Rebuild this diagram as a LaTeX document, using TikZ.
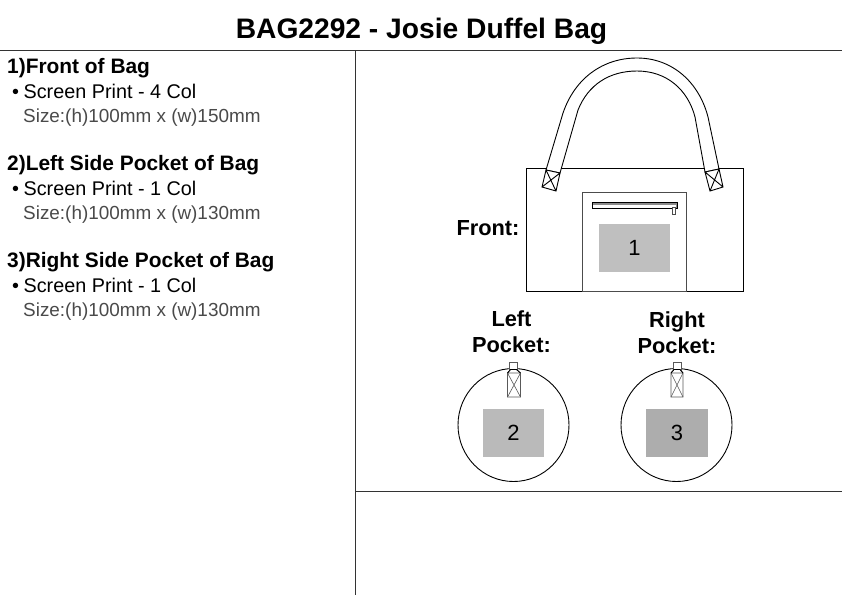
\documentclass[tikz,border=0pt]{standalone}
\usepackage{fontspec}
\setmainfont{Liberation Sans}
\definecolor{printa}{HTML}{BFBFBF}
\definecolor{printb}{HTML}{BABABA}
\definecolor{printc}{HTML}{ADADAD}
\definecolor{rule}{HTML}{333333}
\definecolor{sizetext}{HTML}{4A4A4A}
\tikzset{
  px/.style={x=1pt,y=-1pt},
  frameline/.style={draw=rule,line width=1pt},
  bagline/.style={draw=black,line width=0.9pt},
  thinstrap/.style={draw=black!65,line width=0.6pt},
  titletext/.style={anchor=base,inner sep=0pt,font=\bfseries\fontsize{28.2}{30}\selectfont},
  headtext/.style={anchor=base west,inner sep=0pt,font=\bfseries\fontsize{20.9}{22}\selectfont},
  bodytext/.style={anchor=base west,inner sep=0pt,font=\fontsize{19.8}{21}\selectfont},
  sizelabel/.style={anchor=base west,inner sep=0pt,text=sizetext,font=\fontsize{18.9}{20}\selectfont},
  viewtext/.style={anchor=base,inner sep=0pt,font=\bfseries\fontsize{21.8}{23}\selectfont},
  printnum/.style={anchor=center,inner sep=0pt,font=\fontsize{22}{24}\selectfont},
  bulletmark/.style={anchor=center,inner sep=0pt,font=\fontsize{18}{20}\selectfont},
}
\begin{document}
\begin{tikzpicture}[px]
\useasboundingbox (0,0) rectangle (842,595);
\fill[white] (0,0) rectangle (842,595);
% frame
\draw[frameline] (0,50.5) -- (842,50.5);
\draw[frameline] (355.5,50.5) -- (355.5,595);
\draw[frameline] (355.5,491.5) -- (842,491.5);
% title
\node[titletext] (title) at (421.5,38) {BAG2292 - Josie Duffel Bag};
% left text
\node[headtext] (h1) at (7,73) {1)Front of Bag};
\node[bodytext] (b1) at (12,98) {•\hspace{4.5pt}Screen Print - 4 Col};
\node[sizelabel] (s1) at (23,122) {Size:(h)100mm x (w)150mm};
\node[headtext] (h2) at (7,170) {2)Left Side Pocket of Bag};
\node[bodytext] (b2) at (12,195) {•\hspace{4.5pt}Screen Print - 1 Col};
\node[sizelabel] (s2) at (23,219) {Size:(h)100mm x (w)130mm};
\node[headtext] (h3) at (7,267) {3)Right Side Pocket of Bag};
\node[bodytext] (b3) at (12,292) {•\hspace{4.5pt}Screen Print - 1 Col};
\node[sizelabel] (s3) at (23,316) {Size:(h)100mm x (w)130mm};
% bag
\draw[bagline] (526.5,168.5) rectangle (743,291);
\draw[bagline,draw=black!70] (582.5,192) rectangle (686,291);
% handle
\draw[bagline,fill=white] (546,170) -- (563,113)
  .. controls (575,78) and (603,58) .. (637,58)
  .. controls (672,58) and (699,82) .. (708,117) -- (719,169)
  -- (705,172) -- (695,117)
  .. controls (688,90) and (667,71) .. (637,71)
  .. controls (609,71) and (588,85) .. (578,110) -- (560,173) -- cycle;
% handle tabs
\draw[bagline,fill=white] (546,170) -- (560,173) -- (556,191) -- (542,187) -- cycle
  (546,170) -- (556,191) (560,173) -- (542,187);
\draw[bagline,fill=white] (705,172) -- (719,169) -- (723,187) -- (710,191) -- cycle
  (705,172) -- (723,187) (719,169) -- (710,191);
% zipper
\draw[draw=black,line width=0.8pt,fill=black!45] (592,202.5) rectangle (677,208.5);
\fill[white] (593,205) rectangle (676,207.5);
\draw[draw=black!70,line width=0.6pt,fill=white] (672,207) rectangle (675,214);
% prints
\node[fill=printa,minimum width=71pt,minimum height=48pt,inner sep=0pt] (p1) at (634.5,248) {};
\node[printnum] (n1) at (p1) {1};
\node[fill=printb,minimum width=61pt,minimum height=48pt,inner sep=0pt] (p2) at (513.5,433) {};
\node[printnum] (n2) at (p2) {2};
\node[fill=printc,minimum width=62pt,minimum height=48pt,inner sep=0pt] (p3) at (677,433) {};
\node[printnum] (n3) at (p3) {3};
% pockets
\draw[bagline] (513.5,425) ellipse (55.5 and 56.5);
\draw[bagline] (676.5,425) ellipse (55.5 and 56.5);
% left strap
\draw[thinstrap,fill=white] (509.5,362.5) rectangle (517.5,370);
\draw[thinstrap,fill=white] (507.5,373) -- (510.5,369.5) -- (516.5,369.5) -- (520.5,373) -- (520.5,397) -- (507.5,397) -- cycle;
\draw[thinstrap] (507.5,373) -- (520.5,373) (507.5,397) -- (520.5,373) (507.5,373) -- (520.5,397);
\draw[black,line width=0.9pt] (507.5,373) -- (510.5,369.5) -- (516.5,369.5) -- (520.5,373);
% right strap
\draw[thinstrap,fill=white] (673,362.5) rectangle (681,370);
\draw[thinstrap,fill=white] (671,373) -- (674,369.5) -- (680,369.5) -- (683,373) -- (683,397) -- (671,397) -- cycle;
\draw[thinstrap] (671,373) -- (683,373) (671,397) -- (683,373) (671,373) -- (683,397);
\draw[black,line width=0.9pt] (671,373) -- (674,369.5) -- (680,369.5) -- (683,373);
% view labels
\node[viewtext] (vf) at (488,235) {Front:};
\node[viewtext] (vl1) at (511.5,326) {Left};
\node[viewtext] (vl2) at (511.5,352.5) {Pocket:};
\node[viewtext] (vr1) at (677,327) {Right};
\node[viewtext] (vr2) at (677,353.5) {Pocket:};
\end{tikzpicture}
\end{document}
